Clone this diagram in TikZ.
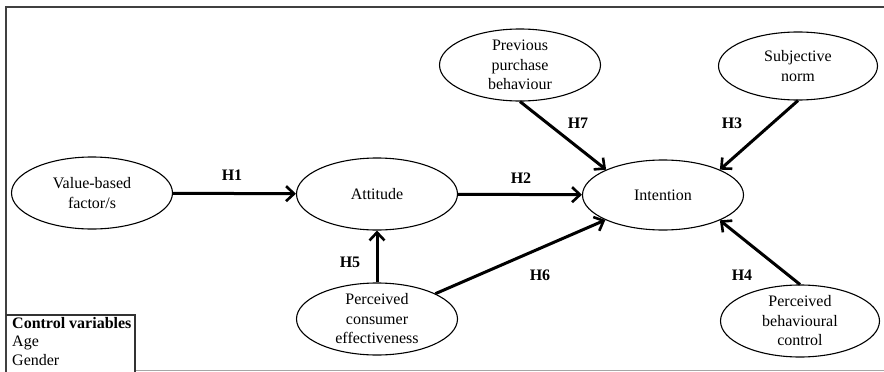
\documentclass[tikz,border=0pt]{standalone}
\usepackage{fontspec}
\setmainfont{Liberation Serif}
\usetikzlibrary{shapes.geometric,arrows.meta}
\begin{document}
\begin{tikzpicture}[x=1pt,y=-1pt,
  var/.style={draw,ellipse,line width=1.1pt,minimum width=161pt,minimum height=72pt,inner sep=0pt,align=center,font=\fontsize{16}{19.5}\selectfont},
  hyp/.style={line width=3pt,-{Straight Barb[length=8pt,width=15pt,line width=2.6pt]}},
  hlab/.style={font=\fontsize{16}{19}\selectfont\bfseries},
  frame/.style={line width=1.4pt,draw=black!75}]
\useasboundingbox (0,0) rectangle (884,372);
% frame
\draw[frame] (6,372) -- (6,7) -- (884,7);
\draw[line width=1.2pt,draw=black!35] (135,370.5) -- (884,370.5);
% nodes
\node[var] (vbf) at (92,193) {Value-based\\factor/s};
\node[var] (att) at (377,194) {Attitude};
\node[var,minimum height=70pt] (int) at (663,195) {Intention};
\node[var] (ppb) at (520,65) {Previous\\purchase\\behaviour};
\node[var,minimum width=159pt,minimum height=68pt] (sn) at (798,66) {Subjective\\norm};
\node[var] (pce) at (377,319) {Perceived\\consumer\\effectiveness};
\node[var,minimum width=159pt] (pbc) at (800,321) {Perceived\\behavioural\\control};
% arrows
\draw[hyp] (vbf) -- (att);
\draw[hyp] (att) -- (int);
\draw[hyp] (pce) -- (att);
\draw[hyp] (pce) -- (int);
\draw[hyp] (ppb.south) -- (int.156);
\draw[hyp] (sn.south) -- (int.24);
\draw[hyp] (pbc.north) -- (int.336);
% labels
\node[hlab] (h1) at (232,175) {H1};
\node[hlab] (h2) at (521,178) {H2};
\node[hlab] (h3) at (732,123) {H3};
\node[hlab] (h4) at (742,275) {H4};
\node[hlab] (h5) at (350,262) {H5};
\node[hlab] (h6) at (540,275) {H6};
\node[hlab] (h7) at (578,123) {H7};
% control variables box
\draw[line width=1.2pt,draw=black!80] (6,315) -- (135,315) -- (135,372);
\node[anchor=north west,align=left,inner sep=0pt,font=\fontsize{16}{18.5}\selectfont] (cv) at (12,317) {\textbf{Control variables}\\Age\\Gender};
\end{tikzpicture}
\end{document}
